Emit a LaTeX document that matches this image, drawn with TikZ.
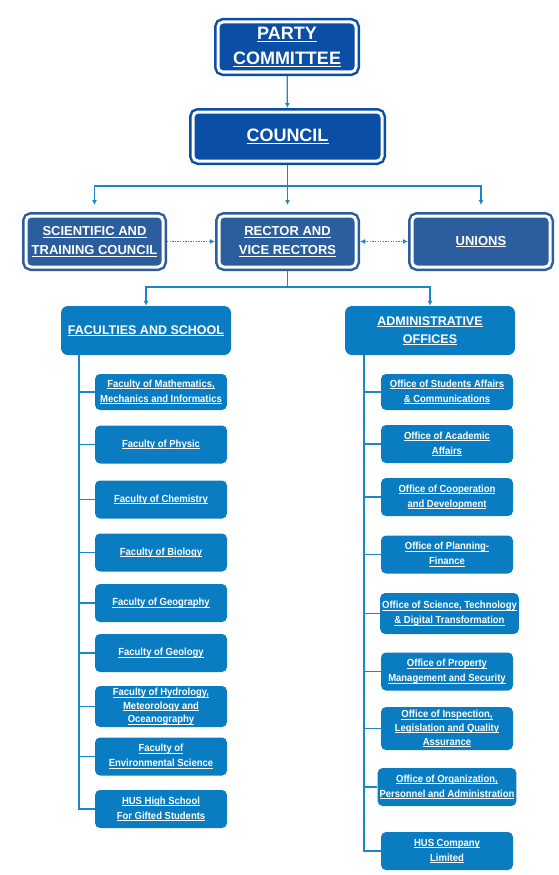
\documentclass[tikz,border=0pt]{standalone}
\usepackage{fontspec}
\setmainfont{Liberation Sans}
\newfontfamily\narrowfont{Liberation Sans}[FakeStretch=0.92]
\usetikzlibrary{arrows.meta,positioning}
\definecolor{navyblue}{HTML}{0A4EA6}
\definecolor{midblue}{HTML}{2C5E9D}
\definecolor{unitblue}{HTML}{0A7DC2}
\definecolor{linkblue}{HTML}{1B87C9}
% underline sitting just under the baseline
\newcommand{\undl}[1]{\setbox0\hbox{#1}\rlap{\rule[-1.6pt]{\wd0}{0.6pt}}\box0}
\tikzset{
	topbox/.style={rectangle, rounded corners=5pt, fill=navyblue, draw=navyblue, double=white, double distance=3pt, line width=2.5pt, outer sep=4pt, inner sep=0pt, text=white, align=center, font=\bfseries\fontsize{18}{25}\selectfont},
	midbox/.style={topbox, fill=midblue, draw=midblue, minimum width=137pt, minimum height=51pt, font=\bfseries\fontsize{13}{19}\selectfont},
	unitbox/.style={rectangle, rounded corners=7pt, fill=unitblue, inner sep=0pt, text=white, align=center, minimum width=170pt, minimum height=49pt, font=\bfseries\fontsize{12.5}{18}\selectfont},
	smallbox/.style={rectangle, rounded corners=5pt, fill=unitblue, inner sep=2pt, text=white, align=center, minimum width=132pt, minimum height=38pt, font=\narrowfont\bfseries\fontsize{10.3}{15}\selectfont},
	tallbox/.style={smallbox, inner sep=0pt, font=\narrowfont\bfseries\fontsize{10.3}{13.6}\selectfont},
	link/.style={draw=linkblue, line width=1.3pt},
	tip/.style={-{Latex[length=5pt,width=5pt]}}
}
\begin{document}
\begin{tikzpicture}[x=1pt,y=-1pt]
	\useasboundingbox (0,0) rectangle (558,875);
	% top levels
	\node[topbox, minimum width=138pt, minimum height=50pt] (party) at (287,47) {\undl{PARTY}\\\undl{COMMITTEE}};
	\node[topbox, minimum width=189pt, minimum height=49pt] (council) at (287.5,136.5) {\undl{COUNCIL}};
	\node[midbox] (science) at (94.5,241.5) {\undl{SCIENTIFIC AND}\\\undl{TRAINING COUNCIL}};
	\node[midbox] (rector) at (287.5,241.5) {\undl{RECTOR AND}\\\undl{VICE RECTORS}};
	\node[midbox, minimum width=138pt] (unions) at (481,241.5) {\undl{UNIONS}};
	\node[unitbox] (faculties) at (146,330.5) {\undl{FACULTIES AND SCHOOL}};
	\node[unitbox] (admin) at (430,330.5) {\undl{ADMINISTRATIVE}\\\undl{OFFICES}};

	% faculties
	\node[smallbox, minimum height=36pt] (fac1) at (161,392) {\undl{Faculty of Mathematics,}\\\undl{Mechanics and Informatics}};
	\node[smallbox] (fac2) at (161,444.5) {\undl{Faculty of Physic}};
	\node[smallbox] (fac3) at (161,499.5) {\undl{Faculty of Chemistry}};
	\node[smallbox] (fac4) at (161,552.5) {\undl{Faculty of Biology}};
	\node[smallbox] (fac5) at (161,603) {\undl{Faculty of Geography}};
	\node[smallbox] (fac6) at (161,653) {\undl{Faculty of Geology}};
	\node[tallbox, minimum height=41pt] (fac7) at (161,706.5) {\undl{Faculty of Hydrology,}\\\undl{Meteorology and}\\\undl{Oceanography}};
	\node[smallbox] (fac8) at (161,756.5) {\undl{Faculty of}\\\undl{Environmental Science}};
	\node[smallbox] (fac9) at (161,809) {\undl{HUS High School}\\\undl{For Gifted Students}};

	% offices
	\node[smallbox, minimum height=36pt] (off1) at (447,392) {\undl{Office of Students Affairs}\\\undl{\& Communications}};
	\node[smallbox] (off2) at (447,444) {\undl{Office of Academic}\\\undl{Affairs}};
	\node[smallbox] (off3) at (447,497) {\undl{Office of Cooperation}\\\undl{and Development}};
	\node[smallbox] (off4) at (447,554.5) {\undl{Office of Planning-}\\\undl{Finance}};
	\node[smallbox, minimum width=133pt, minimum height=41pt] (off5) at (449.5,613.5) {\undl{Office of Science, Technology}\\\undl{\& Digital Transformation}};
	\node[smallbox] (off6) at (447,671.5) {\undl{Office of Property}\\\undl{Management and Security}};
	\node[tallbox, minimum height=43pt] (off7) at (447,728.5) {\undl{Office of Inspection,}\\\undl{Legislation and Quality}\\\undl{Assurance}};
	\node[smallbox] (off8) at (447,787) {\undl{Office of Organization,}\\\undl{Personnel and Administration}};
	\node[smallbox] (off9) at (447,851) {\undl{HUS Company}\\\undl{Limited}};

	% connectors
	\draw[link, tip] (party) -- (council);
	\draw[link] (council.south) -- ++(0,21) coordinate (fork);
	\draw[link, tip, shorten >=7pt] (fork) -| (science.north);
	\draw[link, tip, shorten >=7pt] (fork) -- (rector.north);
	\draw[link, tip, shorten >=7pt] (fork) -| (unions.north);
	\draw[link, dash pattern=on 1.3pt off 1.3pt, tip] (science) -- (rector);
	\draw[link, dash pattern=on 1.3pt off 1.3pt, {Latex[length=5pt,width=5pt]}-{Latex[length=5pt,width=5pt]}] (rector) -- (unions);
	\draw[link] (rector.south) -- ++(0,16) coordinate (split);
	\draw[link, tip] (split) -| (faculties.north);
	\draw[link, tip] (split) -| (admin.north);

	\coordinate (ftrunk) at (79,355);
	\coordinate (otrunk) at (364,355);
	\draw[link, line width=1.6pt] (ftrunk) |- (fac9.west);
	\draw[link, line width=1.6pt] (otrunk) |- (off9.west);
	\foreach \i in {1,...,8} {
		\draw[link] (ftrunk |- fac\i.west) -- (fac\i.west);
		\draw[link] (otrunk |- off\i.west) -- (off\i.west);
	}
\end{tikzpicture}
\end{document}
